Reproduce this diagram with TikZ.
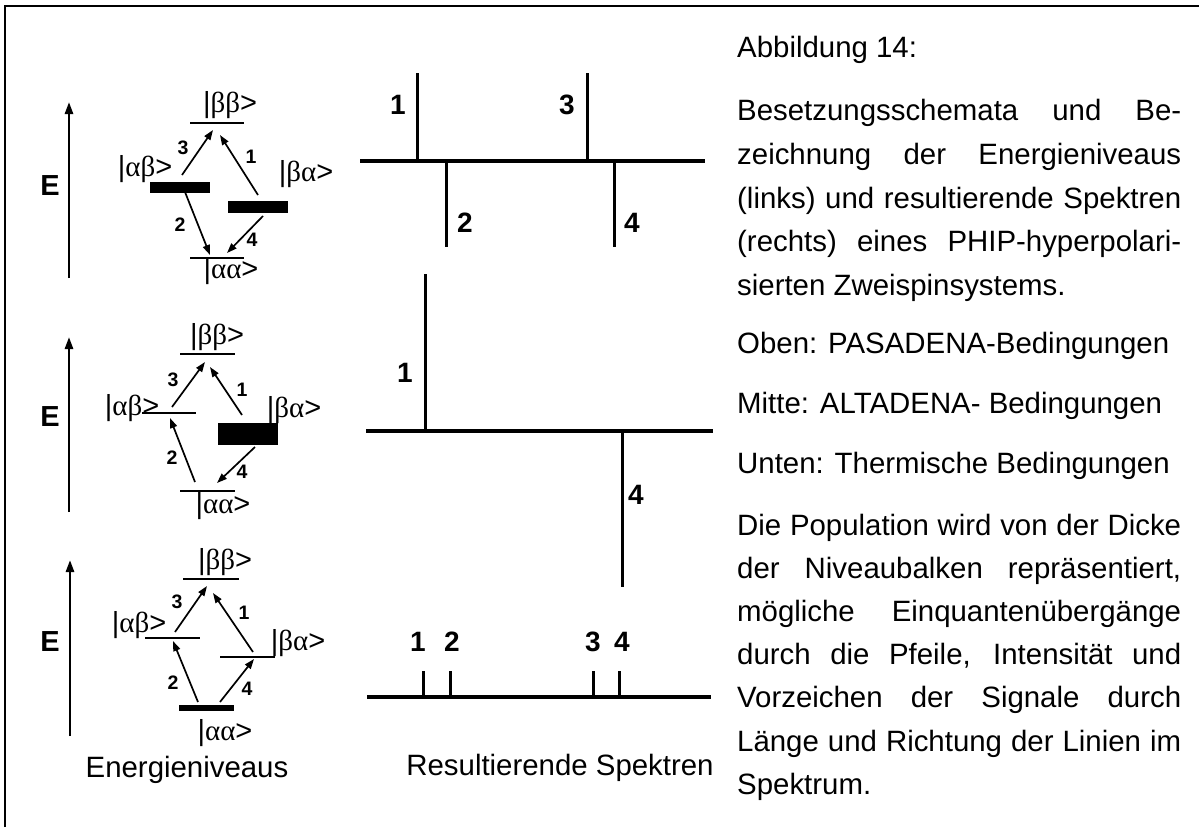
\documentclass[tikz,border=0pt]{standalone}
\usepackage{fontspec}
\setmainfont{Liberation Sans}
\newfontfamily\grk{Liberation Serif}
\usetikzlibrary{arrows.meta}
\newcommand{\jl}[1]{\makebox[444pt][s]{#1}}
\begin{document}
\begin{tikzpicture}[x=1pt,y=-1pt,
  lvlnode/.style={rectangle,fill=black,draw=none,inner sep=0pt,minimum width=#1},
  trans/.style={-{Triangle[length=10pt,width=7pt]},line width=1.7pt},
  earrow/.style={-{Triangle[length=12pt,width=8pt]},line width=2.6pt},
  elabel/.style={font=\bfseries\fontsize{29}{29}\selectfont,inner sep=0pt},
  ket/.style={font=\fontsize{29}{29}\selectfont,inner sep=0pt},
  num/.style={font=\bfseries\fontsize{19.5}{19.5}\selectfont,inner sep=0pt},
  snum/.style={font=\bfseries\fontsize{28}{28}\selectfont,inner sep=0pt},
  specbase/.style={line width=3.5pt},
  specline/.style={line width=3pt},
  captxt/.style={font=\fontsize{29.4}{35}\selectfont,inner sep=0pt,anchor=base west},
  lbl/.style={font=\fontsize{29.4}{35}\selectfont,inner sep=0pt}]
\useasboundingbox (0,0) rectangle (1199,827);
% frame
\draw[line width=2.3pt] (5,827) -- (5,6) -- (1199,6);

% ---------------- Row 1 (PASADENA) ----------------
\coordinate (e1b) at (69,278); \coordinate (e1t) at (69,102);
\draw[earrow] (e1b) -- (e1t);
\node[elabel] (E1) at (50,186) {E};
\node[lvlnode=54pt,minimum height=1.6pt] (bb1) at (217,123) {};
\node[lvlnode=60pt,minimum height=11pt] (ab1) at (180,187.5) {};
\node[lvlnode=60pt,minimum height=12pt] (ba1) at (258,207) {};
\node[lvlnode=54pt,minimum height=1.6pt] (aa1) at (217,258) {};
\node[ket] (bbk1) at (230,105) {|{\grk ββ}>};
\node[ket] (abk1) at (145,169) {|{\grk αβ}>};
\node[ket] (bak1) at (306,174) {|{\grk βα}>};
\node[ket] (aak1) at (231,271) {|{\grk αα}>};
\coordinate (t3s1) at (182,175); \coordinate (t3e1) at (213,130);
\coordinate (t1s1) at (258,195); \coordinate (t1e1) at (220,135);
\coordinate (t2s1) at (185,192); \coordinate (t2e1) at (210,255);
\coordinate (t4s1) at (263,216); \coordinate (t4e1) at (227,253);
\draw[trans] (t3s1) -- (t3e1);
\draw[trans] (t1s1) -- (t1e1);
\draw[trans] (t2s1) -- (t2e1);
\draw[trans] (t4s1) -- (t4e1);
\node[num] (n31) at (183,148) {3};
\node[num] (n11) at (251,157) {1};
\node[num] (n21) at (180,225) {2};
\node[num] (n41) at (252,240) {4};

% ---------------- Row 2 (ALTADENA) ----------------
\coordinate (e2b) at (69,512); \coordinate (e2t) at (69,337);
\draw[earrow] (e2b) -- (e2t);
\node[elabel] (E2) at (50,417) {E};
\node[lvlnode=55pt,minimum height=1.6pt] (bb2) at (207.5,354) {};
\node[lvlnode=54pt,minimum height=1.6pt] (ab2) at (169,413) {};
\node[lvlnode=60pt,minimum height=22pt] (ba2) at (248,434) {};
\node[lvlnode=55pt,minimum height=1.6pt] (aa2) at (207.5,491) {};
\node[ket] (bbk2) at (217,337) {|{\grk ββ}>};
\node[ket] (abk2) at (132,408) {|{\grk αβ}>};
\node[ket] (bak2) at (294,410) {|{\grk βα}>};
\node[ket] (aak2) at (223,506) {|{\grk αα}>};
\coordinate (t3s2) at (172,407); \coordinate (t3e2) at (205,362);
\coordinate (t1s2) at (242,415); \coordinate (t1e2) at (210,367);
\coordinate (t2s2) at (195,482); \coordinate (t2e2) at (170,418);
\coordinate (t4s2) at (255,447); \coordinate (t4e2) at (217,483);
\draw[trans] (t3s2) -- (t3e2);
\draw[trans] (t1s2) -- (t1e2);
\draw[trans] (t2s2) -- (t2e2);
\draw[trans] (t4s2) -- (t4e2);
\node[num] (n32) at (173,380) {3};
\node[num] (n12) at (242,390) {1};
\node[num] (n22) at (172,458) {2};
\node[num] (n42) at (242,472) {4};

% ---------------- Row 3 (thermal) ----------------
\coordinate (e3b) at (70,736); \coordinate (e3t) at (70,560);
\draw[earrow] (e3b) -- (e3t);
\node[elabel] (E3) at (50,642) {E};
\node[lvlnode=56pt,minimum height=1.6pt] (bb3) at (211,579) {};
\node[lvlnode=55pt,minimum height=2.5pt] (ab3) at (172.5,638) {};
\node[lvlnode=55pt,minimum height=2.5pt] (ba3) at (247.5,657) {};
\node[lvlnode=55pt,minimum height=6pt] (aa3) at (206.5,708) {};
\node[ket] (bbk3) at (225,562) {|{\grk ββ}>};
\node[ket] (abk3) at (139,625) {|{\grk αβ}>};
\node[ket] (bak3) at (298,643) {|{\grk βα}>};
\node[ket] (aak3) at (225,733) {|{\grk αα}>};
\coordinate (t3s3) at (175,632); \coordinate (t3e3) at (207,586);
\coordinate (t1s3) at (253,652); \coordinate (t1e3) at (213,593);
\coordinate (t2s3) at (198,702); \coordinate (t2e3) at (173,641);
\coordinate (t4s3) at (220,702); \coordinate (t4e3) at (254,659);
\draw[trans] (t3s3) -- (t3e3);
\draw[trans] (t1s3) -- (t1e3);
\draw[trans] (t2s3) -- (t2e3);
\draw[trans] (t4s3) -- (t4e3);
\node[num] (n33) at (177,602) {3};
\node[num] (n13) at (244,613) {1};
\node[num] (n23) at (173,683) {2};
\node[num] (n43) at (247,689) {4};

\node[lbl] (elev) at (187,770) {Energieniveaus};

% ---------------- Spectra ----------------
% top
\draw[specbase] (360,161) -- (705,161);
\draw[specline] (417,73) -- (417,161);
\draw[specline] (587,73) -- (587,161);
\draw[specline] (446,161) -- (446,247);
\draw[specline] (614,161) -- (614,247);
\node[snum] (s11) at (398,105) {1};
\node[snum] (s13) at (567,105) {3};
\node[snum] (s12) at (465,223) {2};
\node[snum] (s14) at (632,223) {4};
% middle
\draw[specbase] (366,431) -- (713,431);
\draw[specline] (425,274) -- (425,431);
\draw[specline] (622,431) -- (622,587);
\node[snum] (s21) at (405,373) {1};
\node[snum] (s24) at (636,495) {4};
% bottom
\draw[specbase] (367,697) -- (711,697);
\draw[specline] (423,671) -- (423,697);
\draw[specline] (450,671) -- (450,697);
\draw[specline] (593,671) -- (593,697);
\draw[specline] (619,671) -- (619,697);
\node[snum] (s31) at (418,642) {1};
\node[snum] (s32) at (452,642) {2};
\node[snum] (s33) at (593,642) {3};
\node[snum] (s34) at (622,642) {4};

\node[lbl] (rspec) at (560,768) {Resultierende Spektren};

% ---------------- Caption ----------------
\node[captxt] (c1) at (737,57) {Abbildung 14:};
\node[captxt] (c2) at (737,120) {\jl{Besetzungsschemata und Be-}};
\node[captxt] (c3) at (737,164) {\jl{zeichnung der Energieniveaus}};
\node[captxt] (c4) at (737,208) {\jl{(links) und resultierende Spektren}};
\node[captxt] (c5) at (737,251) {\jl{(rechts) eines PHIP-hyperpolari-}};
\node[captxt] (c6) at (737,295) {sierten Zweispinsystems.};
\node[captxt] (c7) at (737,353) {Oben: PASADENA-Bedingungen};
\node[captxt] (c8) at (737,413) {Mitte: ALTADENA- Bedingungen};
\node[captxt] (c9) at (737,473) {Unten: Thermische Bedingungen};
\node[captxt] (c10) at (737,535) {\jl{Die Population wird von der Dicke}};
\node[captxt] (c11) at (737,578) {\jl{der Niveaubalken repräsentiert,}};
\node[captxt] (c12) at (737,621) {\jl{mögliche Einquantenübergänge}};
\node[captxt] (c13) at (737,664) {\jl{durch die Pfeile, Intensität und}};
\node[captxt] (c14) at (737,707) {\jl{Vorzeichen der Signale durch}};
\node[captxt] (c15) at (737,751) {\jl{Länge und Richtung der Linien im}};
\node[captxt] (c16) at (737,794) {Spektrum.};
\end{tikzpicture}
\end{document}
